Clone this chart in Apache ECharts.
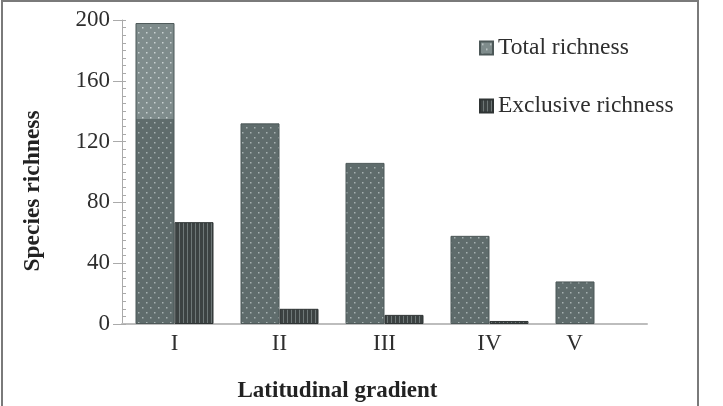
<!DOCTYPE html>
<html>
<head>
<meta charset="utf-8">
<script src="https://cdn.jsdelivr.net/npm/echarts@6/dist/echarts.min.js"></script>
<style>
html,body{margin:0;padding:0;background:#fff;}
#chart{width:723px;height:406px;}
</style>
</head>
<body>
<div id="chart"></div>
<script>
// ---- data ----
const categories = ['I', 'II', 'III', 'IV', 'V'];
const totalRichness = [198, 132, 106, 58, 28];
const exclusiveRichness = [67, 10, 6, 2, 0];
const seriesNames = ['Total richness', 'Exclusive richness'];
const yMin = 0, yMax = 200, yInterval = 40;
const lighterAbove = 135; // the top part of bar I is drawn lighter in the reference

const FONT = 'Liberation Serif, Times New Roman, serif';

function dotPattern(height, splitY) {
  const c = document.createElement('canvas');
  c.width = 8; c.height = height;
  const g = c.getContext('2d');
  for (let y = 0; y < height; y++) {
    g.fillStyle = y < splitY ? '#7f8c8c' : '#5f6c6c';
    g.fillRect(0, y, 8, 1);
  }
  for (let y = 0; y < height; y += 10) {
    const dots = [[2, y + 2], [6, y + 7]];
    dots.forEach(([dx, dy]) => {
      g.fillStyle = dy < splitY ? 'rgba(215,222,222,0.85)' : 'rgba(190,200,200,0.75)';
      g.fillRect(dx, dy, 1.5, 1.5);
    });
  }
  return c;
}
function stripePattern() {
  const c = document.createElement('canvas');
  c.width = 4; c.height = 4;
  const g = c.getContext('2d');
  g.fillStyle = '#3c4242'; g.fillRect(0, 0, 4, 4);
  g.fillStyle = '#6e7777'; g.fillRect(3, 0, 1, 4);
  return c;
}

const chart = echarts.init(document.getElementById('chart'), null, { renderer: 'canvas' });

const gridBox = { left: 122, right: 76, top: 20, bottom: 82, containLabel: false, outerBoundsMode: 'none' };

function buildOption(splitY) {
  return {
    animation: false,
    backgroundColor: '#fff',
    textStyle: { fontFamily: FONT },
    graphic: [{
      type: 'rect', silent: true, z: -1,
      shape: { x: 2, y: 1, width: 696, height: 430 },
      style: { fill: 'none', stroke: '#7a7a7a', lineWidth: 2 }
    }],
    legend: {
      orient: 'vertical',
      left: 479, top: 36, padding: 0,
      itemWidth: 13, itemHeight: 13, itemGap: 34,
      icon: 'rect',
      textStyle: { fontFamily: FONT, fontSize: 23.5, color: '#2e2e2e', lineHeight: 22 },
      data: seriesNames
    },
    grid: [Object.assign({}, gridBox), Object.assign({}, gridBox)],
    xAxis: [{
      type: 'category', gridIndex: 0, data: categories,
      axisLine: { lineStyle: { color: '#bdbdbd', width: 2 } },
      axisTick: { show: false },
      axisLabel: {
        fontFamily: FONT, fontSize: 23, color: '#2e2e2e', margin: 8,
        formatter: v => v === 'V' ? '{v|' + v + '}' : v,
        rich: { v: { fontFamily: FONT, fontSize: 23, color: '#2e2e2e', padding: [0, 40, 0, 0] } }
      },
      name: 'Latitudinal gradient', nameLocation: 'middle', nameGap: 56,
      nameTextStyle: { fontFamily: FONT, fontSize: 23, fontWeight: 'bold', color: '#222', padding: [0, 94, 0, 0] }
    }, {
      type: 'category', gridIndex: 1, data: categories, show: false
    }],
    yAxis: [{
      type: 'value', gridIndex: 0, min: yMin, max: yMax, interval: yInterval,
      axisLine: { show: true, lineStyle: { color: '#aaaaaa', width: 1 } },
      axisTick: { show: true, length: 9, lineStyle: { color: '#aaaaaa' } },
      splitLine: { show: false },
      axisLabel: { fontFamily: FONT, fontSize: 23, color: '#2e2e2e', margin: 12 },
      name: 'Species richness', nameLocation: 'middle', nameGap: 77, nameRotate: 90,
      nameTextStyle: { fontFamily: FONT, fontSize: 23.5, fontWeight: 'bold', color: '#222', padding: [0, 38, 0, 0] }
    }, {
      type: 'value', gridIndex: 1, min: yMin, max: yMax, interval: yInterval,
      axisLine: { show: false },
      axisTick: { show: true, inside: true, length: 4, lineStyle: { color: '#aaaaaa' } },
      minorTick: { show: true, splitNumber: 8, length: 4, lineStyle: { color: '#aaaaaa' } },
      splitLine: { show: false }, axisLabel: { show: false }
    }],
    series: [{
      name: seriesNames[0], type: 'bar', xAxisIndex: 0, yAxisIndex: 0,
      data: totalRichness, barWidth: 39, barGap: '0%',
      itemStyle: {
        color: { image: dotPattern(406, splitY), repeat: 'repeat' },
        borderColor: '#4d5858', borderWidth: 1
      }
    }, {
      name: seriesNames[1], type: 'bar', xAxisIndex: 0, yAxisIndex: 0,
      data: exclusiveRichness.map(v => v === 0 ? { value: v, itemStyle: { borderWidth: 0 } } : v),
      barWidth: 39, barGap: '0%',
      itemStyle: {
        color: { image: stripePattern(), repeat: 'repeat' },
        borderColor: '#2f3434', borderWidth: 1
      }
    }]
  };
}

chart.setOption(buildOption(0));
const splitY = chart.convertToPixel({ yAxisIndex: 0 }, lighterAbove);
chart.setOption(buildOption(splitY), true);
</script>
</body>
</html>
